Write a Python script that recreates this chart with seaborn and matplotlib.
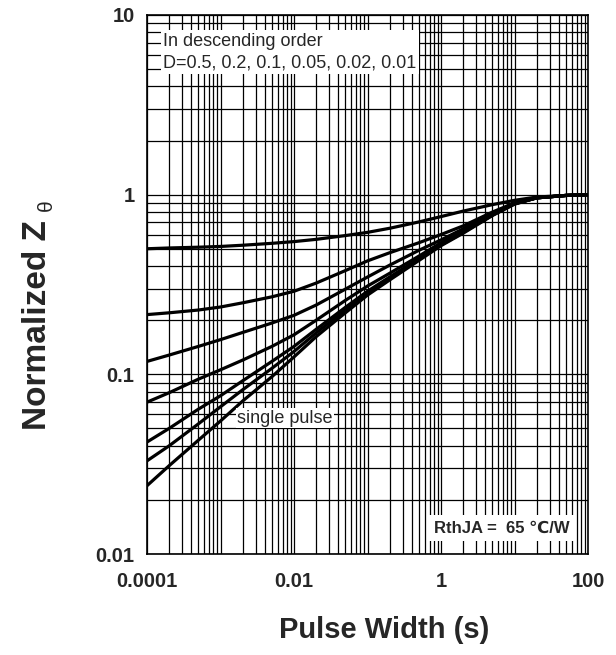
import numpy as np
import pandas as pd
import matplotlib
matplotlib.use('Agg')
import matplotlib.pyplot as plt
from matplotlib.ticker import LogLocator, NullFormatter
import seaborn as sns

# pulse width (s)
pulse_width = [1e-4, 2e-4, 5e-4, 1e-3, 2e-3, 5e-3, 1e-2, 2e-2, 5e-2, 0.1,
               0.2, 0.5, 1, 2, 5, 10, 20, 50, 100]

# normalized Z (top to bottom)
z_d050 = [0.50, 0.505, 0.51, 0.515, 0.523, 0.536, 0.548, 0.564, 0.592, 0.617,
          0.65, 0.705, 0.755, 0.81, 0.88, 0.93, 0.97, 0.99, 1.0]
z_d020 = [0.215, 0.22, 0.228, 0.237, 0.25, 0.27, 0.29, 0.322, 0.378, 0.428,
          0.475, 0.54, 0.60, 0.67, 0.80, 0.90, 0.96, 0.99, 1.0]
z_d010 = [0.118, 0.128, 0.143, 0.156, 0.171, 0.193, 0.213, 0.243, 0.298, 0.348,
          0.405, 0.49, 0.56, 0.645, 0.785, 0.895, 0.96, 0.99, 1.0]
z_d005 = [0.070, 0.079, 0.094, 0.106, 0.12, 0.143, 0.166, 0.2, 0.258, 0.31,
          0.365, 0.455, 0.54, 0.63, 0.78, 0.89, 0.96, 0.99, 1.0]
z_d002 = [0.042, 0.05, 0.064, 0.076, 0.092, 0.118, 0.143, 0.178, 0.236, 0.29,
          0.348, 0.44, 0.53, 0.62, 0.77, 0.89, 0.96, 0.99, 1.0]
z_d001 = [0.033, 0.04, 0.053, 0.066, 0.082, 0.108, 0.134, 0.17, 0.228, 0.283,
          0.34, 0.435, 0.525, 0.615, 0.77, 0.89, 0.96, 0.99, 1.0]
z_single = [0.024, 0.031, 0.043, 0.055, 0.071, 0.097, 0.125, 0.162, 0.22, 0.276,
            0.335, 0.43, 0.52, 0.61, 0.765, 0.885, 0.96, 0.99, 1.0]

curve_names = ['D=0.5', 'D=0.2', 'D=0.1', 'D=0.05', 'D=0.02', 'D=0.01', 'single']
curve_values = [z_d050, z_d020, z_d010, z_d005, z_d002, z_d001, z_single]

x_tick_vals = [1e-4, 1e-3, 1e-2, 1e-1, 1, 10, 100]
x_tick_labels = ['0.0001', '', '0.01', '', '1', '', '100']
y_tick_vals = [0.01, 0.1, 1, 10]
y_tick_labels = ['0.01', '0.1', '1', '10']

rows = []
for name, vals in zip(curve_names, curve_values):
    for x, z in zip(pulse_width, vals):
        rows.append({'curve': name, 'width': x, 'z': z})
df = pd.DataFrame(rows)

sns.set_style('white')
plt.rcParams['font.family'] = ['Liberation Sans', 'DejaVu Sans']

fig = plt.figure(figsize=(6.16, 6.55), dpi=100)
ax = fig.add_axes([147 / 616, 1 - 554 / 655, 441 / 616, 539 / 655])

sns.lineplot(data=df, x='width', y='z', hue='curve', palette=['black'] * 7,
             lw=2.3, legend=False, ax=ax, sort=False, estimator=None, zorder=3)

ax.set_xscale('log')
ax.set_yscale('log')
ax.set_xlim(1e-4, 100)
ax.set_ylim(0.01, 10)

ax.set_xticks(x_tick_vals)
ax.set_xticklabels(x_tick_labels)
ax.set_yticks(y_tick_vals)
ax.set_yticklabels(y_tick_labels)
ax.xaxis.set_minor_locator(LogLocator(base=10, subs=np.arange(2, 10)))
ax.yaxis.set_minor_locator(LogLocator(base=10, subs=np.arange(2, 10)))
ax.xaxis.set_minor_formatter(NullFormatter())
ax.yaxis.set_minor_formatter(NullFormatter())
ax.tick_params(which='both', length=0)
ax.tick_params(axis='x', pad=13, labelsize=14.5)
ax.tick_params(axis='y', pad=9, labelsize=14.5)
for lab in ax.get_xticklabels() + ax.get_yticklabels():
    lab.set_fontweight('bold')

ax.grid(which='both', color='black', lw=0.9)
for sp in ax.spines.values():
    sp.set_color('black')
    sp.set_linewidth(1.2)

ax.set_xlabel('')
ax.set_ylabel('')
fig.text(384 / 616, 1 - 630 / 655, 'Pulse Width (s)', fontsize=21,
         fontweight='bold', ha='center', va='center')
# y label: bold "Normalized Z" with a plain subscript theta
fig.text(38 / 616, 1 - 325 / 655, 'Normalized Z', fontsize=24,
         fontweight='bold', ha='center', va='center', rotation=90)
fig.text(46 / 616, 1 - 205 / 655, '\u03b8', fontsize=15,
         ha='center', va='center', rotation=90)

ax.text(0.037, 0.967, 'In descending order\nD=0.5, 0.2, 0.1, 0.05, 0.02, 0.01',
        transform=ax.transAxes, fontsize=13, va='top', ha='left', linespacing=1.35,
        bbox=dict(facecolor='white', edgecolor='none', pad=2), zorder=5)
ax.text(0.204, 0.252, 'single pulse', transform=ax.transAxes, fontsize=13,
        va='center', ha='left',
        bbox=dict(facecolor='white', edgecolor='none', pad=1.0), zorder=5)
ax.text(0.959, 0.048, 'RthJA =  65 \u2103/W', transform=ax.transAxes, fontsize=12,
        fontweight='bold', va='center', ha='right',
        bbox=dict(facecolor='white', edgecolor='none', pad=4), zorder=5)

fig.savefig('out.png', dpi=100)
